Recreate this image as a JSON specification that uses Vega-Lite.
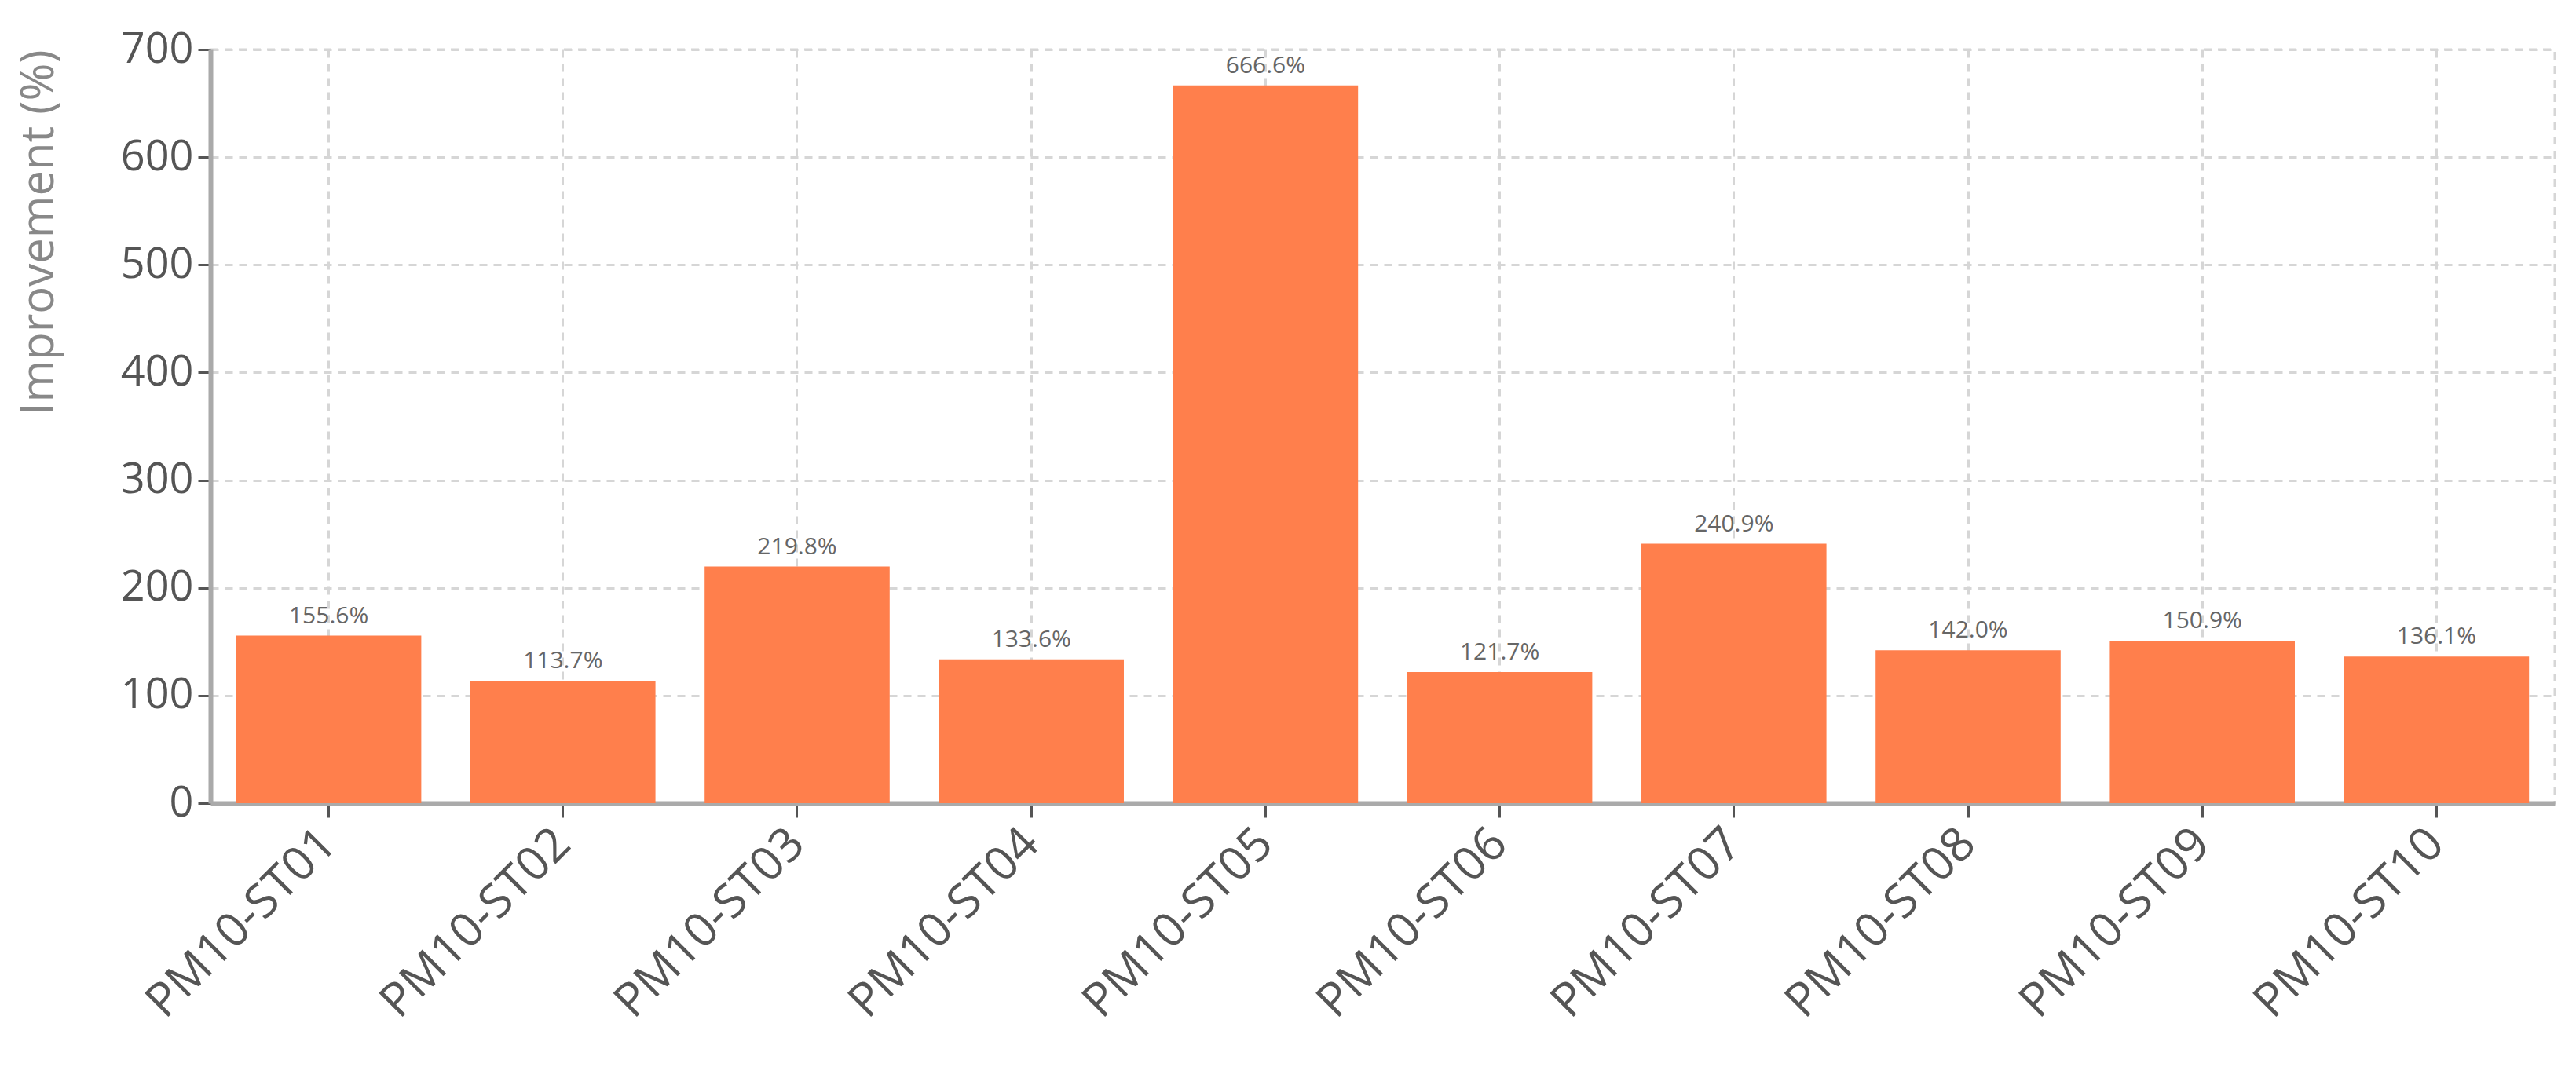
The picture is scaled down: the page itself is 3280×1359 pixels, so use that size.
{
  "$schema": "https://vega.github.io/schema/vega-lite/v6.json",
  "width": 2985,
  "height": 960,
  "autosize": {"type": "none"},
  "padding": {"left": 268, "top": 63, "right": 27, "bottom": 336},
  "background": "white",
  "config": {
    "font": "Open Sans",
    "view": {"stroke": "#d6d6d6", "strokeDash": [10, 8], "strokeWidth": 3}
  },
  "data": {
    "values": [
      {"station": "PM10-ST01", "value": 155.6},
      {"station": "PM10-ST02", "value": 113.7},
      {"station": "PM10-ST03", "value": 219.8},
      {"station": "PM10-ST04", "value": 133.6},
      {"station": "PM10-ST05", "value": 666.6},
      {"station": "PM10-ST06", "value": 121.7},
      {"station": "PM10-ST07", "value": 240.9},
      {"station": "PM10-ST08", "value": 142.0},
      {"station": "PM10-ST09", "value": 150.9},
      {"station": "PM10-ST10", "value": 136.1}
    ]
  },
  "transform": [
    {"calculate": "format(datum.value, '.1f') + '%'", "as": "label"}
  ],
  "encoding": {
    "x": {
      "field": "station",
      "type": "nominal",
      "sort": null,
      "scale": {"paddingInner": 0.21, "paddingOuter": 0.11},
      "axis": {
        "title": null,
        "labelAngle": -45,
        "labelAlign": "right",
        "labelBaseline": "middle",
        "labelFontSize": 60,
        "labelLimit": 0,
        "labelColor": "#555555",
        "labelPadding": 24,
        "tickSize": 18,
        "tickWidth": 3,
        "tickColor": "#555555",
        "domainColor": "#aaaaaa",
        "domainWidth": 6,
        "grid": true,
        "gridDash": [10, 8],
        "gridColor": "#d6d6d6",
        "gridWidth": 3,
        "bandPosition": 0.5
      }
    },
    "y": {
      "field": "value",
      "type": "quantitative",
      "scale": {"domain": [0, 700], "nice": false},
      "axis": {
        "title": "Improvement (%)",
        "titleFontSize": 58,
        "titleFontWeight": "normal",
        "titleColor": "#888888",
        "titleAnchor": "end",
        "titlePadding": 74,
        "values": [0, 100, 200, 300, 400, 500, 600, 700],
        "labelFontSize": 54,
        "labelColor": "#555555",
        "labelPadding": 6,
        "tickSize": 16,
        "tickWidth": 3,
        "tickColor": "#555555",
        "domainColor": "#aaaaaa",
        "domainWidth": 6,
        "grid": true,
        "gridDash": [10, 8],
        "gridColor": "#d6d6d6",
        "gridWidth": 3
      }
    }
  },
  "layer": [
    {"mark": {"type": "bar", "color": "#FF7F4C"}},
    {
      "mark": {"type": "text", "baseline": "bottom", "dy": -10, "fontSize": 30, "color": "#666666"},
      "encoding": {"text": {"field": "label"}}
    }
  ]
}
